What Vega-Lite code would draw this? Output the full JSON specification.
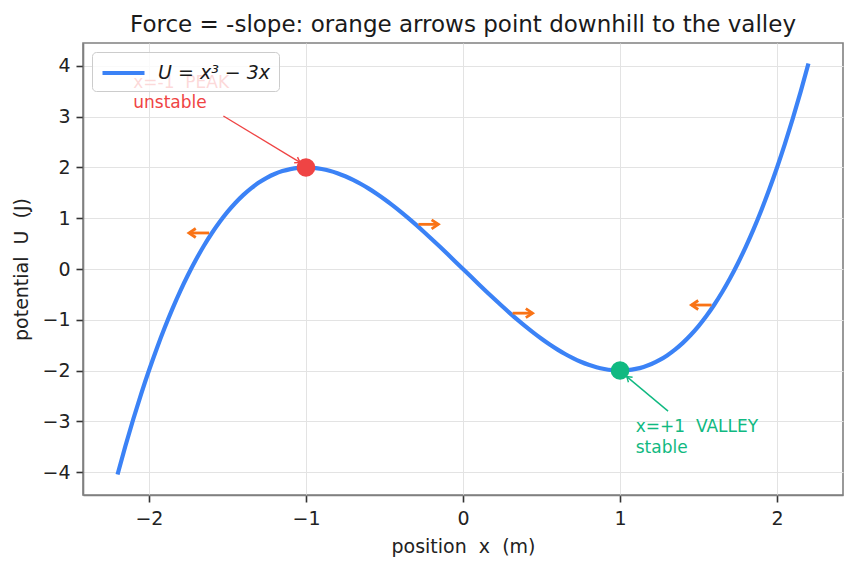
{
  "$schema": "https://vega.github.io/schema/vega-lite/v6.json",
  "width": 760,
  "height": 452,
  "autosize": {"type": "none"},
  "padding": {"left": 83, "top": 43, "right": 13, "bottom": 74},
  "background": "white",
  "config": {
    "font": "DejaVu Sans",
    "view": {"stroke": "#808080", "strokeWidth": 1.6},
    "axis": {
      "domainColor": "#808080",
      "domainWidth": 1.6,
      "tickColor": "#333333",
      "tickSize": 7,
      "tickWidth": 1.6,
      "labelFontSize": 19,
      "labelColor": "#222222",
      "labelFont": "DejaVu Sans",
      "titleFont": "DejaVu Sans",
      "titleFontSize": 19,
      "titleFontWeight": "normal",
      "titleColor": "#222222",
      "gridColor": "#e3e3e3",
      "gridWidth": 1
    },
    "title": {"font": "DejaVu Sans", "fontSize": 23, "fontWeight": "normal", "color": "#1a1a1a", "anchor": "middle", "frame": "group", "offset": 6}
  },
  "title": "Force = -slope: orange arrows point downhill to the valley",
  "layer": [
    {
      "mark": {"type": "rule", "color": "#888888", "strokeWidth": 1.9},
      "encoding": {
        "y": {"datum": 0, "type": "quantitative", "scale": {"domain": [-4.453, 4.453], "nice": false, "zero": false}, "axis": {"values": [-4, -3, -2, -1, 0, 1, 2, 3, 4], "format": "d", "title": "potential \u00a0U \u00a0(J)", "labelPadding": 6, "titlePadding": 10, "grid": true}}
      }
    },
    {
      "data": {"values": [
        {"x": -2.2, "u": -4.048}, {"x": -2.15, "u": -3.4884}, {"x": -2.1, "u": -2.961}, {"x": -2.05, "u": -2.4651},
        {"x": -2.0, "u": -2.0}, {"x": -1.95, "u": -1.5649}, {"x": -1.9, "u": -1.159}, {"x": -1.85, "u": -0.7816},
        {"x": -1.8, "u": -0.432}, {"x": -1.75, "u": -0.1094}, {"x": -1.7, "u": 0.187}, {"x": -1.65, "u": 0.4579},
        {"x": -1.6, "u": 0.704}, {"x": -1.55, "u": 0.9261}, {"x": -1.5, "u": 1.125}, {"x": -1.45, "u": 1.3014},
        {"x": -1.4, "u": 1.456}, {"x": -1.35, "u": 1.5896}, {"x": -1.3, "u": 1.703}, {"x": -1.25, "u": 1.7969},
        {"x": -1.2, "u": 1.872}, {"x": -1.15, "u": 1.9291}, {"x": -1.1, "u": 1.969}, {"x": -1.05, "u": 1.9924},
        {"x": -1.0, "u": 2.0}, {"x": -0.95, "u": 1.9926}, {"x": -0.9, "u": 1.971}, {"x": -0.85, "u": 1.9359},
        {"x": -0.8, "u": 1.888}, {"x": -0.75, "u": 1.8281}, {"x": -0.7, "u": 1.757}, {"x": -0.65, "u": 1.6754},
        {"x": -0.6, "u": 1.584}, {"x": -0.55, "u": 1.4836}, {"x": -0.5, "u": 1.375}, {"x": -0.45, "u": 1.2589},
        {"x": -0.4, "u": 1.136}, {"x": -0.35, "u": 1.0071}, {"x": -0.3, "u": 0.873}, {"x": -0.25, "u": 0.7344},
        {"x": -0.2, "u": 0.592}, {"x": -0.15, "u": 0.4466}, {"x": -0.1, "u": 0.299}, {"x": -0.05, "u": 0.1499},
        {"x": 0.0, "u": 0.0},
        {"x": 0.05, "u": -0.1499}, {"x": 0.1, "u": -0.299}, {"x": 0.15, "u": -0.4466}, {"x": 0.2, "u": -0.592},
        {"x": 0.25, "u": -0.7344}, {"x": 0.3, "u": -0.873}, {"x": 0.35, "u": -1.0071}, {"x": 0.4, "u": -1.136},
        {"x": 0.45, "u": -1.2589}, {"x": 0.5, "u": -1.375}, {"x": 0.55, "u": -1.4836}, {"x": 0.6, "u": -1.584},
        {"x": 0.65, "u": -1.6754}, {"x": 0.7, "u": -1.757}, {"x": 0.75, "u": -1.8281}, {"x": 0.8, "u": -1.888},
        {"x": 0.85, "u": -1.9359}, {"x": 0.9, "u": -1.971}, {"x": 0.95, "u": -1.9926}, {"x": 1.0, "u": -2.0},
        {"x": 1.05, "u": -1.9924}, {"x": 1.1, "u": -1.969}, {"x": 1.15, "u": -1.9291}, {"x": 1.2, "u": -1.872},
        {"x": 1.25, "u": -1.7969}, {"x": 1.3, "u": -1.703}, {"x": 1.35, "u": -1.5896}, {"x": 1.4, "u": -1.456},
        {"x": 1.45, "u": -1.3014}, {"x": 1.5, "u": -1.125}, {"x": 1.55, "u": -0.9261}, {"x": 1.6, "u": -0.704},
        {"x": 1.65, "u": -0.4579}, {"x": 1.7, "u": -0.187}, {"x": 1.75, "u": 0.1094}, {"x": 1.8, "u": 0.432},
        {"x": 1.85, "u": 0.7816}, {"x": 1.9, "u": 1.159}, {"x": 1.95, "u": 1.5649}, {"x": 2.0, "u": 2.0},
        {"x": 2.05, "u": 2.4651}, {"x": 2.1, "u": 2.961}, {"x": 2.15, "u": 3.4884}, {"x": 2.2, "u": 4.048}
      ]},
      "mark": {"type": "line", "strokeWidth": 4.2, "interpolate": "monotone"},
      "encoding": {
        "x": {"field": "x", "type": "quantitative", "scale": {"domain": [-2.42, 2.42], "nice": false, "zero": false}, "axis": {"values": [-2, -1, 0, 1, 2], "format": "d", "title": "position \u00a0x \u00a0(m)", "labelPadding": 7, "titlePadding": 9, "grid": true}},
        "y": {"field": "u", "type": "quantitative"},
        "color": {
          "datum": "U = x³ − 3x",
          "scale": {"range": ["#3b82f6"]},
          "legend": {
            "title": null,
            "orient": "top-left",
            "offset": 9,
            "zindex": 1,
            "padding": 8,
            "fillColor": "rgba(255,255,255,0.8)",
            "strokeColor": "#cccccc",
            "cornerRadius": 4,
            "symbolType": "M-1,0L3,0",
            "symbolSize": 441,
            "symbolStrokeWidth": 4.2,
            "labelFontSize": 19,
            "labelFontStyle": "italic",
            "labelFont": "DejaVu Sans",
            "labelColor": "#1a1a1a",
            "labelOffset": 32,
            "labelLimit": 300
          }
        }
      }
    },
    {
      "data": {"values": [
        {"x": -1.617, "xh": -1.745, "y": 0.71, "dir": "left"},
        {"x": -0.284, "xh": -0.157, "y": 0.88, "dir": "right"},
        {"x": 0.316, "xh": 0.443, "y": -0.87, "dir": "right"},
        {"x": 1.583, "xh": 1.455, "y": -0.71, "dir": "left"}
      ]},
      "layer": [
        {
          "mark": {"type": "rule", "color": "#f97316", "strokeWidth": 2.8},
          "encoding": {
            "x": {"field": "x", "type": "quantitative"},
            "x2": {"field": "xh"},
            "y": {"field": "y", "type": "quantitative"}
          }
        },
        {
          "mark": {"type": "point", "filled": false, "color": "#f97316", "strokeWidth": 2.8, "size": 81, "opacity": 1, "strokeJoin": "miter"},
          "encoding": {
            "x": {"field": "xh", "type": "quantitative"},
            "y": {"field": "y", "type": "quantitative"},
            "shape": {"field": "dir", "type": "nominal", "scale": {"domain": ["left", "right"], "range": ["M1.5,-1L0,0L1.5,1", "M-1.5,-1L0,0L-1.5,1"]}, "legend": null}
          }
        }
      ]
    },
    {
      "data": {"values": [
        {"kind": "peak", "x": -1.526, "y": 3.015, "x2": -1.038, "y2": 2.1},
        {"kind": "valley", "x": 1.306, "y": -2.8, "x2": 1.043, "y2": -2.12}
      ]},
      "layer": [
        {
          "mark": {"type": "rule", "strokeWidth": 1.4},
          "encoding": {
            "x": {"field": "x", "type": "quantitative"},
            "y": {"field": "y", "type": "quantitative"},
            "x2": {"field": "x2"},
            "y2": {"field": "y2"},
            "stroke": {"field": "kind", "type": "nominal", "scale": {"domain": ["peak", "valley"], "range": ["#ef4444", "#10b981"]}, "legend": null}
          }
        },
        {
          "mark": {"type": "point", "filled": false, "shape": "M-1.5,-1L0,0L-1.5,1", "size": 42, "strokeWidth": 1.4, "opacity": 1},
          "encoding": {
            "x": {"field": "x2", "type": "quantitative"},
            "y": {"field": "y2", "type": "quantitative"},
            "stroke": {"field": "kind", "type": "nominal", "legend": null},
            "angle": {"field": "kind", "type": "nominal", "scale": {"domain": ["peak", "valley"], "range": [31, 220]}, "legend": null}
          }
        }
      ]
    },
    {
      "data": {"values": [
        {"kind": "peak", "x": -1.0, "u": 2.0},
        {"kind": "valley", "x": 1.0, "u": -2.0}
      ]},
      "mark": {"type": "circle", "size": 350, "opacity": 1},
      "encoding": {
        "x": {"field": "x", "type": "quantitative"},
        "y": {"field": "u", "type": "quantitative"},
        "fill": {"field": "kind", "type": "nominal", "scale": {"domain": ["peak", "valley"], "range": ["#ef4444", "#10b981"]}, "legend": null}
      }
    },
    {
      "data": {"values": [
        {"kind": "peak", "x": -2.1, "y": 3.572, "label": "x=-1 \u00a0PEAK"},
        {"kind": "peak", "x": -2.1, "y": 3.18, "label": "unstable"},
        {"kind": "valley", "x": 1.1, "y": -3.22, "label": "x=+1 \u00a0VALLEY"},
        {"kind": "valley", "x": 1.1, "y": -3.616, "label": "stable"}
      ]},
      "mark": {"type": "text", "align": "left", "baseline": "alphabetic", "fontSize": 17, "font": "DejaVu Sans"},
      "encoding": {
        "x": {"field": "x", "type": "quantitative"},
        "y": {"field": "y", "type": "quantitative"},
        "text": {"field": "label"},
        "fill": {"field": "kind", "type": "nominal", "legend": null}
      }
    }
  ]
}
